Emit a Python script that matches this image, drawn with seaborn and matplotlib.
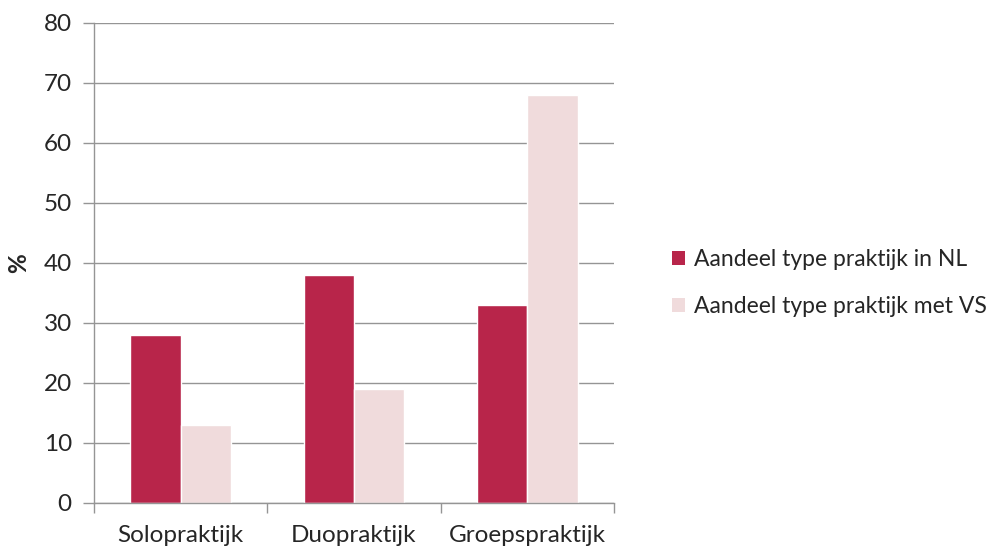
import pandas as pd
import matplotlib.pyplot as plt
import seaborn as sns
from matplotlib.patches import Patch

# Data
categories = ["Solopraktijk", "Duopraktijk", "Groepspraktijk"]
series_names = ["Aandeel type praktijk in NL", "Aandeel type praktijk met VS"]
nl_values = [28, 38, 33]
vs_values = [13, 19, 68]
colors = ["#B8254A", "#F0DBDC"]

df = pd.DataFrame({
    "Type": categories * 2,
    "Serie": [series_names[0]] * 3 + [series_names[1]] * 3,
    "Waarde": nl_values + vs_values,
})

sns.set_style("white")
plt.rcParams["font.family"] = ["Lato", "DejaVu Sans"]

fig = plt.figure(figsize=(9.95, 5.5), dpi=100)
ax = fig.add_axes([0.0945, 0.0855, 0.5225, 0.8727])

sns.barplot(
    data=df, x="Type", y="Waarde", hue="Serie",
    palette=colors, width=0.58, edgecolor="white", linewidth=1,
    saturation=1, legend=False, ax=ax,
)

ax.set_ylim(0, 80)
ax.set_xlim(-0.5, 2.5)
ax.set_yticks(range(0, 81, 10))
ax.yaxis.grid(True, color="#959595", linewidth=1)
ax.set_axisbelow(True)

for s in ["top", "right"]:
    ax.spines[s].set_visible(False)
for s in ["left", "bottom"]:
    ax.spines[s].set_color("#959595")
    ax.spines[s].set_linewidth(1)

ax.tick_params(axis="y", which="major", length=8, width=1, color="#959595",
               direction="out", left=True, labelsize=17.5, pad=8)
ax.tick_params(axis="x", which="major", length=0, labelsize=17.5, pad=16)
ax.set_xticks([-0.5, 0.5, 1.5, 2.5], minor=True)
ax.tick_params(axis="x", which="minor", length=7, width=1, color="#959595",
               direction="out", bottom=True)

ax.set_xlabel("")
ax.set_ylabel("%", fontsize=17.5, fontweight="bold", labelpad=10)

handles = [Patch(facecolor=c, edgecolor="none") for c in colors]
fig.legend(handles, series_names, loc="center left",
           bbox_to_anchor=(0.655, 0.485), frameon=False, fontsize=16.5,
           handlelength=0.55, handleheight=0.55, handletextpad=0.4,
           labelspacing=1.15)

fig.savefig("out.png", dpi=100)
